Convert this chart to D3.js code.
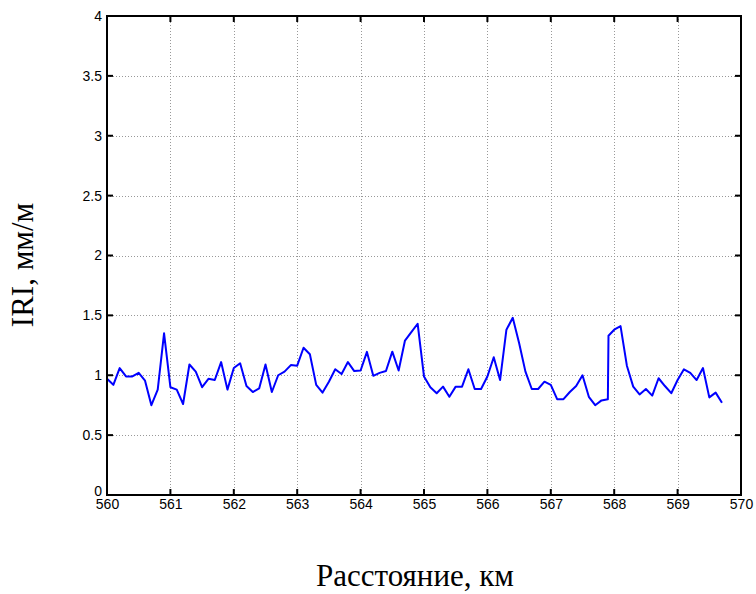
<!DOCTYPE html>
<html>
<head>
<meta charset="utf-8">
<script src="https://cdn.jsdelivr.net/npm/d3@7"></script>
<style>
  html, body { margin: 0; padding: 0; background: #fff; }
  svg { display: block; }
</style>
</head>
<body>
<svg id="chart" width="756" height="594"></svg>
<script>
// Distance along the road, km (0.1 km step; one doubled point at the segment joint)
const distanceKm = [
  560.0, 560.1, 560.2, 560.3, 560.4, 560.5, 560.6, 560.7, 560.8, 560.9,
  561.0, 561.1, 561.2, 561.3, 561.4, 561.5, 561.6, 561.7, 561.8, 561.9,
  562.0, 562.1, 562.2, 562.3, 562.4, 562.5, 562.6, 562.7, 562.8, 562.9,
  563.0, 563.1, 563.2, 563.3, 563.4, 563.5, 563.6, 563.7, 563.8, 563.9,
  564.0, 564.1, 564.2, 564.3, 564.4, 564.5, 564.6, 564.7, 564.8, 564.9,
  565.0, 565.1, 565.2, 565.3, 565.4, 565.5, 565.6, 565.7, 565.8, 565.9,
  566.0, 566.1, 566.2, 566.3, 566.4, 566.5, 566.6, 566.7, 566.8, 566.9,
  567.0, 567.1, 567.2, 567.3, 567.4, 567.5, 567.6, 567.7, 567.8, 567.9, 567.91,
  568.0, 568.1, 568.2, 568.3, 568.4, 568.5, 568.6, 568.7, 568.8, 568.9,
  569.0, 569.1, 569.2, 569.3, 569.4, 569.5, 569.6, 569.7
];

// International Roughness Index, mm/m
const iriValues = [
  0.97, 0.92, 1.06, 0.99, 0.99, 1.02, 0.955, 0.75, 0.88, 1.35,
  0.90, 0.88, 0.76, 1.09, 1.03, 0.90, 0.97, 0.96, 1.11, 0.88,
  1.06, 1.10, 0.91, 0.86, 0.89, 1.09, 0.86, 1.00, 1.03, 1.085,
  1.08, 1.23, 1.175, 0.92, 0.855, 0.946, 1.05, 1.01, 1.11, 1.035,
  1.04, 1.195, 0.995, 1.02, 1.035, 1.197, 1.04, 1.29, 1.36, 1.43,
  0.99, 0.90, 0.85, 0.905, 0.82, 0.905, 0.905, 1.05, 0.885, 0.885,
  0.99, 1.15, 0.96, 1.38, 1.48, 1.27, 1.03, 0.885, 0.885, 0.946,
  0.92, 0.80, 0.80, 0.86, 0.91, 1.00, 0.82, 0.75, 0.79, 0.80, 1.33,
  1.38, 1.41, 1.08, 0.905, 0.84, 0.885, 0.83, 0.975, 0.91, 0.85,
  0.96, 1.05, 1.02, 0.96, 1.06, 0.815, 0.855, 0.77
];

const xTicks = [560, 561, 562, 563, 564, 565, 566, 567, 568, 569, 570];
const yTicks = [0, 0.5, 1, 1.5, 2, 2.5, 3, 3.5, 4];

const xTitle = "Расстояние, км";
const yTitle = "IRI, мм/м";

const svg = d3.select("#chart");
const plot = { left: 107, right: 741, top: 16, bottom: 495 };

const x = d3.scaleLinear().domain([560, 570]).range([plot.left, plot.right]);
const y = d3.scaleLinear().domain([0, 4]).range([plot.bottom, plot.top]);

const tickFont = "'Liberation Sans', Arial, Helvetica, sans-serif";
const titleFont = "'Liberation Serif', 'Times New Roman', serif";

// dotted grid
const grid = svg.append("g").attr("stroke", "#999").attr("stroke-width", 1)
  .attr("stroke-dasharray", "1,2");
grid.selectAll("line.v").data(xTicks.slice(1, -1)).join("line")
  .attr("x1", d => Math.round(x(d)) + 0.5).attr("x2", d => Math.round(x(d)) + 0.5)
  .attr("y1", plot.top).attr("y2", plot.bottom);
grid.selectAll("line.h").data(yTicks.slice(1, -1)).join("line")
  .attr("y1", d => Math.round(y(d)) + 0.5).attr("y2", d => Math.round(y(d)) + 0.5)
  .attr("x1", plot.left).attr("x2", plot.right);

// data line
const line = d3.line().x((d, i) => x(distanceKm[i])).y(d => y(d));
svg.append("path")
  .datum(iriValues)
  .attr("fill", "none")
  .attr("stroke", "#0000ff")
  .attr("stroke-width", 2)
  .attr("stroke-linejoin", "round")
  .attr("d", line);

// axes: ticks pointing inward, labels outside
const tickLen = 6;
const xAxisBottom = d3.axisBottom(x).tickValues(xTicks).tickSize(0).tickPadding(4)
  .tickFormat(d3.format("d"));
const yAxisLeft = d3.axisLeft(y).tickValues(yTicks).tickSize(0).tickPadding(5)
  .tickFormat(d => d3.format("")(d));

const gx = svg.append("g").attr("transform", `translate(0,${plot.bottom})`).call(xAxisBottom);
const gy = svg.append("g").attr("transform", `translate(${plot.left},0)`).call(yAxisLeft);
[gx, gy].forEach(g => {
  g.select(".domain").remove();
  g.selectAll("text").attr("font-family", tickFont).attr("font-size", 14).attr("fill", "#000");
});
// the bottom "0" sits just above the first distance label
gy.selectAll(".tick").filter(d => d === 0).select("text").attr("dy", "0em");

const ticks = svg.append("g").attr("stroke", "#000").attr("stroke-width", 2);
xTicks.forEach(t => {
  ticks.append("line").attr("x1", x(t)).attr("x2", x(t))
    .attr("y1", plot.bottom).attr("y2", plot.bottom - tickLen);
  ticks.append("line").attr("x1", x(t)).attr("x2", x(t))
    .attr("y1", plot.top).attr("y2", plot.top + tickLen);
});
yTicks.forEach(t => {
  ticks.append("line").attr("y1", y(t)).attr("y2", y(t))
    .attr("x1", plot.left).attr("x2", plot.left + tickLen);
  ticks.append("line").attr("y1", y(t)).attr("y2", y(t))
    .attr("x1", plot.right).attr("x2", plot.right - tickLen);
});

// box
svg.append("rect")
  .attr("x", plot.left).attr("y", plot.top)
  .attr("width", plot.right - plot.left).attr("height", plot.bottom - plot.top)
  .attr("fill", "none").attr("stroke", "#000").attr("stroke-width", 2);

// titles
svg.append("text")
  .attr("x", (plot.left + plot.right) / 2 - 9).attr("y", 586)
  .attr("text-anchor", "middle")
  .attr("font-family", titleFont).attr("font-size", 31)
  .text(xTitle);

svg.append("text")
  .attr("transform", `translate(33,265) rotate(-90)`)
  .attr("text-anchor", "middle")
  .attr("font-family", titleFont).attr("font-size", 31)
  .text(yTitle);
</script>
</body>
</html>
